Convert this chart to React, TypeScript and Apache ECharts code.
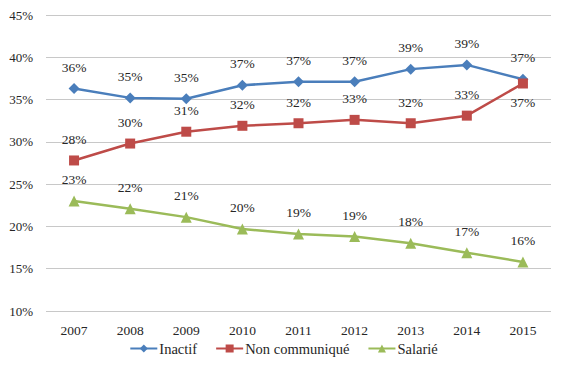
import React, { useEffect, useRef } from "react";
import * as echarts from "echarts";

const years = ["2007", "2008", "2009", "2010", "2011", "2012", "2013", "2014", "2015"];
const inactif = [36.3, 35.2, 35.1, 36.7, 37.1, 37.1, 38.6, 39.1, 37.4];
const nonCommunique = [27.8, 29.8, 31.2, 31.9, 32.2, 32.6, 32.2, 33.1, 36.9];
const salarie = [23.0, 22.1, 21.1, 19.7, 19.1, 18.8, 18.0, 16.9, 15.8];

const FONT = "Liberation Serif";

export default function App() {
  const ref = useRef<HTMLDivElement>(null);
  useEffect(() => {
    const chart = echarts.init(ref.current!, null, { renderer: "svg" });
    const label = () => ({
      show: true,
      position: "top",
      distance: 9,
      fontFamily: FONT,
      fontSize: 13.5,
      color: "#262626",
      formatter: (p: any) => Math.round(p.value) + "%",
    });
    const ncData = nonCommunique.map((v, i) =>
      i === nonCommunique.length - 1 ? { value: v, label: { position: "bottom", distance: 7 } } : v
    );
    chart.setOption({
      animation: false,
      backgroundColor: "#fff",
      textStyle: { fontFamily: FONT },
      grid: { left: 46, right: 16, top: 15, bottom: 67, containLabel: false },
      legend: {
        bottom: 17,
        left: "center",
        itemWidth: 27,
        itemHeight: 10,
        itemGap: 18,
        textStyle: { fontFamily: FONT, fontSize: 14.5, color: "#262626", padding: [0, 0, 0, -3] },
        data: ["Inactif", "Non communiqué", "Salarié"],
      },
      xAxis: {
        type: "category",
        data: years,
        boundaryGap: true,
        axisLine: { show: false },
        axisTick: { show: false },
        axisLabel: { fontFamily: FONT, fontSize: 13.5, color: "#262626", margin: 12 },
      },
      yAxis: {
        type: "value",
        min: 10,
        max: 45,
        interval: 5,
        axisLine: { show: false },
        axisTick: { show: false },
        splitLine: { lineStyle: { color: "#c8c8c8", width: 1 } },
        axisLabel: {
          fontFamily: FONT,
          fontSize: 13,
          color: "#262626",
          margin: 13,
          formatter: (v: number) => v + "%",
        },
      },
      series: [
        {
          name: "Inactif",
          type: "line",
          data: inactif,
          symbol: "diamond",
          symbolSize: 11,
          color: "#4A7EBB",
          lineStyle: { width: 2.5, color: "#4A7EBB" },
          itemStyle: { color: "#4A7EBB" },
          label: label(),
          z: 3,
        },
        {
          name: "Non communiqué",
          type: "line",
          data: ncData,
          symbol: "rect",
          symbolSize: 10,
          color: "#BE4B48",
          lineStyle: { width: 2.5, color: "#BE4B48" },
          itemStyle: { color: "#BE4B48" },
          label: label(),
          z: 4,
        },
        {
          name: "Salarié",
          type: "line",
          data: salarie,
          symbol: "triangle",
          symbolSize: 11,
          color: "#9BBB59",
          lineStyle: { width: 2.5, color: "#9BBB59" },
          itemStyle: { color: "#9BBB59" },
          label: label(),
          z: 3,
        },
      ],
    });
    return () => chart.dispose();
  }, []);
  return <div ref={ref} style={{ width: 567, height: 378, position: "absolute", left: 0, top: 0 }} />;
}
